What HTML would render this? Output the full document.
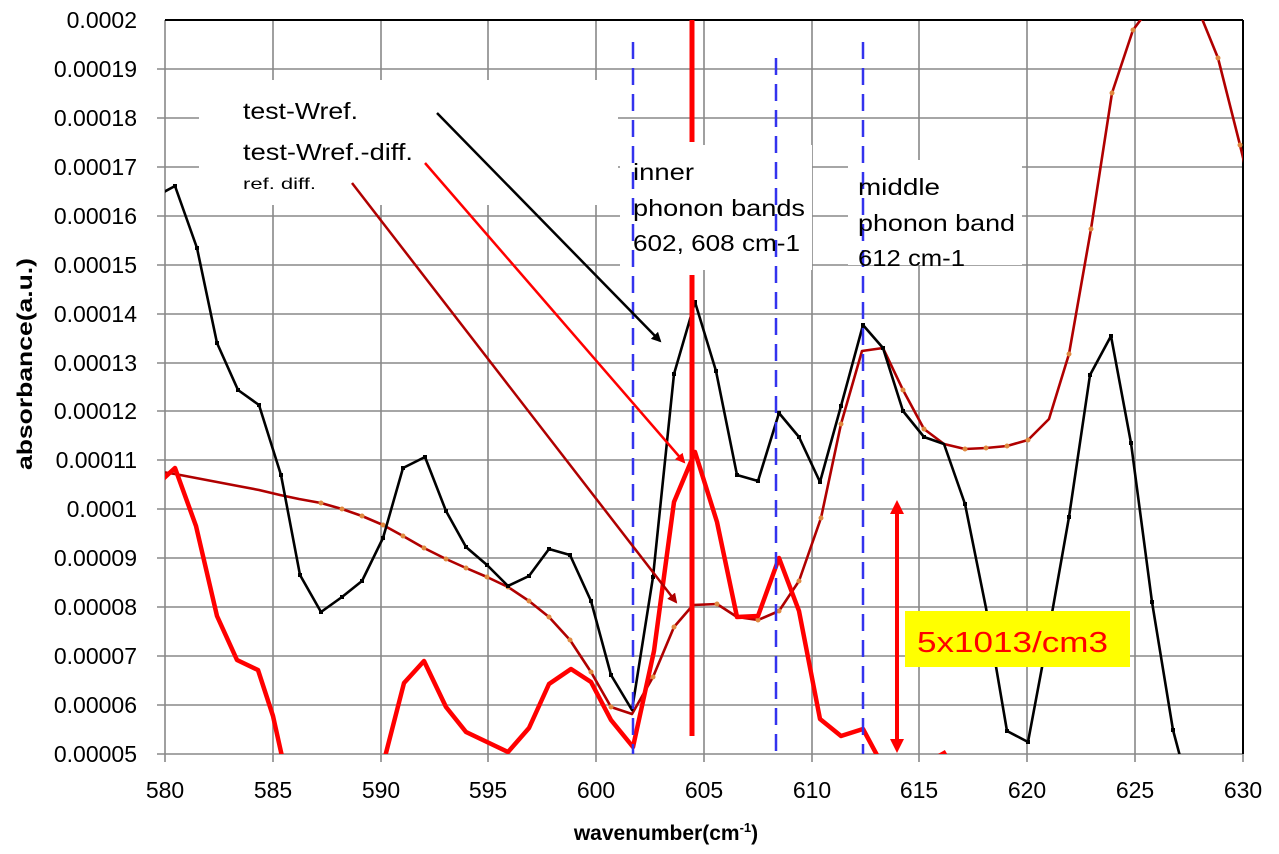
<!DOCTYPE html>
<html><head><meta charset="utf-8"><style>
html,body{margin:0;padding:0;background:#fff;}
svg{display:block;font-family:"Liberation Sans",sans-serif;}
</style></head><body>
<svg width="1279" height="854" viewBox="0 0 1279 854" xmlns="http://www.w3.org/2000/svg">
<defs>
<clipPath id="pc"><rect x="165" y="20" width="1078" height="734"/></clipPath>
<marker id="ak" markerWidth="10" markerHeight="10" refX="8" refY="5" orient="auto" markerUnits="userSpaceOnUse"><path d="M0,0 L10,5 L0,10 z" fill="#000"/></marker>
<marker id="ar" markerWidth="10" markerHeight="10" refX="8" refY="5" orient="auto" markerUnits="userSpaceOnUse"><path d="M0,0 L10,5 L0,10 z" fill="#ff0000"/></marker>
<marker id="ad" markerWidth="10" markerHeight="10" refX="8" refY="5" orient="auto" markerUnits="userSpaceOnUse"><path d="M0,0 L10,5 L0,10 z" fill="#b00000"/></marker>
</defs>
<g stroke="#888" stroke-width="1.6">
<line x1="157" y1="69" x2="1243" y2="69"/><line x1="157" y1="118" x2="1243" y2="118"/><line x1="157" y1="167" x2="1243" y2="167"/><line x1="157" y1="216" x2="1243" y2="216"/><line x1="157" y1="265" x2="1243" y2="265"/><line x1="157" y1="314" x2="1243" y2="314"/><line x1="157" y1="363" x2="1243" y2="363"/><line x1="157" y1="411" x2="1243" y2="411"/><line x1="157" y1="460" x2="1243" y2="460"/><line x1="157" y1="509" x2="1243" y2="509"/><line x1="157" y1="558" x2="1243" y2="558"/><line x1="157" y1="607" x2="1243" y2="607"/><line x1="157" y1="656" x2="1243" y2="656"/><line x1="157" y1="705" x2="1243" y2="705"/><line x1="157" y1="754" x2="1243" y2="754"/>
<line x1="165" y1="20" x2="165" y2="762"/><line x1="273" y1="20" x2="273" y2="762"/><line x1="381" y1="20" x2="381" y2="762"/><line x1="488" y1="20" x2="488" y2="762"/><line x1="596" y1="20" x2="596" y2="762"/><line x1="704" y1="20" x2="704" y2="762"/><line x1="812" y1="20" x2="812" y2="762"/><line x1="919" y1="20" x2="919" y2="762"/><line x1="1027" y1="20" x2="1027" y2="762"/><line x1="1135" y1="20" x2="1135" y2="762"/><line x1="1243" y1="20" x2="1243" y2="762"/>
</g>
<line x1="165" y1="20" x2="1243" y2="20" stroke="#000" stroke-width="2"/>
<line x1="1243" y1="20" x2="1243" y2="754" stroke="#000" stroke-width="2"/>
<rect x="199" y="80" width="419" height="125" fill="#fff"/>
<rect x="620" y="145" width="192" height="125" fill="#fff"/>
<rect x="848" y="160" width="174" height="105" fill="#fff"/>
<g clip-path="url(#pc)" fill="none" stroke-linejoin="round">
<polyline stroke="#b00000" stroke-width="2.6" points="162,472 175,474 196,478 217,482 238,486 259,490 280,495 299,499 321,503 342,509 362,516 383,525 403,536 424,548 446,559 466,568 487,577 508,587 529,601 549,617 570,640 591,672 611,707 632,714 653,677 674,627 693,605 717,604 737,617 758,620 779,611 799,581 821,518 841,424 862,351 883,348 903,390 924,429 944,444 965,449 986,448 1007,446 1028,440 1049,419 1069,354 1091,229 1112,93 1133,30 1154,2 1175,-8 1196,4 1218,58 1240,145 1246,170"/>
<g fill="#e08a40" stroke="none">
<circle cx="321" cy="503" r="2.5"/><circle cx="342" cy="509" r="2.5"/><circle cx="362" cy="516" r="2.5"/><circle cx="383" cy="525" r="2.5"/><circle cx="403" cy="536" r="2.5"/><circle cx="424" cy="548" r="2.5"/><circle cx="446" cy="559" r="2.5"/><circle cx="466" cy="568" r="2.5"/><circle cx="487" cy="577" r="2.5"/><circle cx="508" cy="587" r="2.5"/><circle cx="529" cy="601" r="2.5"/><circle cx="549" cy="617" r="2.5"/><circle cx="570" cy="640" r="2.5"/><circle cx="591" cy="672" r="2.5"/><circle cx="611" cy="707" r="2.5"/><circle cx="653" cy="677" r="2.5"/><circle cx="674" cy="627" r="2.5"/><circle cx="717" cy="604" r="2.5"/><circle cx="758" cy="620" r="2.5"/><circle cx="779" cy="611" r="2.5"/><circle cx="799" cy="581" r="2.5"/><circle cx="821" cy="518" r="2.5"/><circle cx="841" cy="424" r="2.5"/><circle cx="903" cy="390" r="2.5"/><circle cx="924" cy="429" r="2.5"/><circle cx="965" cy="449" r="2.5"/><circle cx="986" cy="448" r="2.5"/><circle cx="1007" cy="446" r="2.5"/><circle cx="1028" cy="440" r="2.5"/><circle cx="1069" cy="354" r="2.5"/><circle cx="1091" cy="229" r="2.5"/><circle cx="1112" cy="93" r="2.5"/><circle cx="1133" cy="30" r="2.5"/><circle cx="1218" cy="58" r="2.5"/><circle cx="1240" cy="145" r="2.5"/>
</g>
<polyline stroke="#000" stroke-width="2.6" points="162,193 175,186 197,248 217,343 238,390 259,405 281,475 300,575 321,612 342,597 362,581 383,538 403,468 425,457 446,511 466,547 487,565 508,586 529,576 549,549 570,555 591,601 611,675 632,710 653,577 674,374 695,302 716,371 737,475 758,481 779,413 799,437 820,482 841,406 863,325 883,348 903,411 924,437 944,444 965,504 986,608 1007,731 1028,742 1049,630 1069,517 1090,375 1111,336 1131,443 1152,602 1173,730 1185,775"/>
<g fill="#000" stroke="none">
<rect x="173" y="184" width="4" height="4"/><rect x="195" y="246" width="4" height="4"/><rect x="215" y="341" width="4" height="4"/><rect x="236" y="388" width="4" height="4"/><rect x="257" y="403" width="4" height="4"/><rect x="279" y="473" width="4" height="4"/><rect x="298" y="573" width="4" height="4"/><rect x="319" y="610" width="4" height="4"/><rect x="340" y="595" width="4" height="4"/><rect x="360" y="579" width="4" height="4"/><rect x="381" y="536" width="4" height="4"/><rect x="401" y="466" width="4" height="4"/><rect x="423" y="455" width="4" height="4"/><rect x="444" y="509" width="4" height="4"/><rect x="464" y="545" width="4" height="4"/><rect x="485" y="563" width="4" height="4"/><rect x="506" y="584" width="4" height="4"/><rect x="527" y="574" width="4" height="4"/><rect x="547" y="547" width="4" height="4"/><rect x="568" y="553" width="4" height="4"/><rect x="589" y="599" width="4" height="4"/><rect x="609" y="673" width="4" height="4"/><rect x="651" y="575" width="4" height="4"/><rect x="672" y="372" width="4" height="4"/><rect x="693" y="300" width="4" height="4"/><rect x="714" y="369" width="4" height="4"/><rect x="735" y="473" width="4" height="4"/><rect x="756" y="479" width="4" height="4"/><rect x="777" y="411" width="4" height="4"/><rect x="797" y="435" width="4" height="4"/><rect x="818" y="480" width="4" height="4"/><rect x="839" y="404" width="4" height="4"/><rect x="861" y="323" width="4" height="4"/><rect x="881" y="346" width="4" height="4"/><rect x="901" y="409" width="4" height="4"/><rect x="922" y="435" width="4" height="4"/><rect x="963" y="502" width="4" height="4"/><rect x="1005" y="729" width="4" height="4"/><rect x="1026" y="740" width="4" height="4"/><rect x="1067" y="515" width="4" height="4"/><rect x="1088" y="373" width="4" height="4"/><rect x="1109" y="334" width="4" height="4"/><rect x="1129" y="441" width="4" height="4"/><rect x="1150" y="600" width="4" height="4"/><rect x="1171" y="728" width="4" height="4"/>
</g>
<polyline stroke="#ff0000" stroke-width="4.5" points="162,480 175,468 196,526 217,616 237,660 258,670 273,716 285,770"/>
<polyline stroke="#ff0000" stroke-width="4.5" points="382,770 386,753 404,683 424,661 446,707 466,732 487,742 508,752 529,728 549,684 571,669 591,682 611,720 633,747 654,651 674,502 695,452 717,522 737,617 758,616 779,558 799,611 820,719 841,736 863,729 885,770"/>
<polyline stroke="#ff0000" stroke-width="4.5" points="932,760 946,752"/>
</g>
<g stroke="#3333ee" stroke-width="2.5" stroke-dasharray="17,9">
<line x1="633" y1="42" x2="633" y2="754"/>
<line x1="776" y1="58" x2="776" y2="754"/>
<line x1="863" y1="42" x2="863" y2="754"/>
</g>
<line x1="692" y1="20" x2="692" y2="142" stroke="#ff0000" stroke-width="5"/>
<line x1="692" y1="275" x2="692" y2="736" stroke="#ff0000" stroke-width="5"/>
<line x1="437" y1="113" x2="660" y2="341" stroke="#000" stroke-width="2.5" marker-end="url(#ak)"/>
<line x1="425" y1="163" x2="684" y2="462" stroke="#ff0000" stroke-width="2.5" marker-end="url(#ar)"/>
<line x1="352" y1="183" x2="676" y2="602" stroke="#b00000" stroke-width="2.5" marker-end="url(#ad)"/>
<line x1="897" y1="512" x2="897" y2="740" stroke="#ff0000" stroke-width="4"/>
<path d="M890,514 L897,500 L904,514 z M890,739 L897,753 L904,739 z" fill="#ff0000"/>
<rect x="905" y="611" width="225" height="56" fill="#ffff00"/>
<text x="917" y="652" font-size="29" fill="#ff0000" textLength="191" lengthAdjust="spacingAndGlyphs">5x1013/cm3</text>
<g font-size="23" fill="#000">
<text x="243" y="119" textLength="115" lengthAdjust="spacingAndGlyphs">test-Wref.</text>
<text x="243" y="160" textLength="170" lengthAdjust="spacingAndGlyphs">test-Wref.-diff.</text>
<text x="243" y="189" font-size="16" textLength="73" lengthAdjust="spacingAndGlyphs">ref. diff.</text>
<text x="633" y="180" textLength="61" lengthAdjust="spacingAndGlyphs">inner</text>
<text x="633" y="216" textLength="172" lengthAdjust="spacingAndGlyphs">phonon bands</text>
<text x="633" y="251" textLength="167" lengthAdjust="spacingAndGlyphs">602, 608 cm-1</text>
<text x="858" y="195" textLength="82" lengthAdjust="spacingAndGlyphs">middle</text>
<text x="858" y="231" textLength="157" lengthAdjust="spacingAndGlyphs">phonon band</text>
<text x="858" y="266" textLength="107" lengthAdjust="spacingAndGlyphs">612 cm-1</text>
</g>
<g font-size="23" fill="#000" text-anchor="end">
<text x="137" y="28">0.0002</text><text x="137" y="77">0.00019</text><text x="137" y="126">0.00018</text><text x="137" y="175">0.00017</text><text x="137" y="224">0.00016</text><text x="137" y="273">0.00015</text><text x="137" y="322">0.00014</text><text x="137" y="371">0.00013</text><text x="137" y="419">0.00012</text><text x="137" y="468">0.00011</text><text x="137" y="517">0.0001</text><text x="137" y="566">0.00009</text><text x="137" y="615">0.00008</text><text x="137" y="664">0.00007</text><text x="137" y="713">0.00006</text><text x="137" y="762">0.00005</text>
</g>
<g font-size="23" fill="#000" text-anchor="middle">
<text x="165" y="798">580</text><text x="273" y="798">585</text><text x="381" y="798">590</text><text x="488" y="798">595</text><text x="596" y="798">600</text><text x="704" y="798">605</text><text x="812" y="798">610</text><text x="919" y="798">615</text><text x="1027" y="798">620</text><text x="1135" y="798">625</text><text x="1243" y="798">630</text>
</g>
<text x="666" y="840" font-size="21" font-weight="bold" text-anchor="middle">wavenumber(cm<tspan font-size="13" dy="-8">-1</tspan><tspan dy="8">)</tspan></text>
<text transform="translate(32,364) rotate(-90)" font-size="21" font-weight="bold" text-anchor="middle" textLength="212" lengthAdjust="spacingAndGlyphs">absorbance(a.u.)</text>
</svg>
</body></html>
